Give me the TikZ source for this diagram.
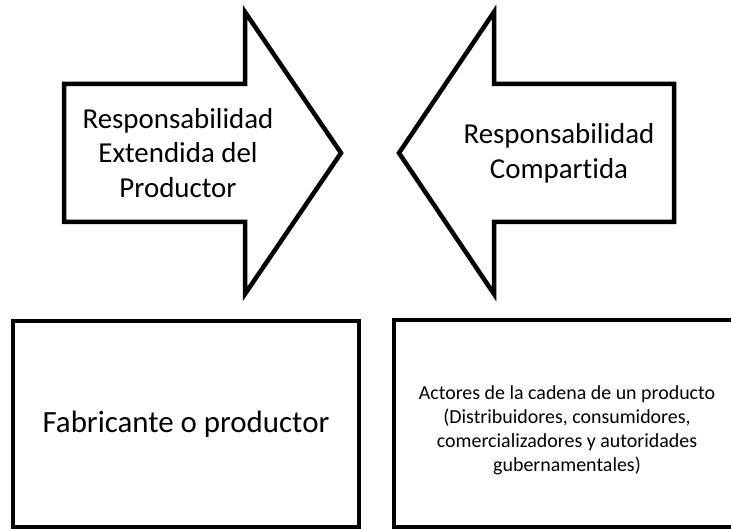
\documentclass[tikz,border=0pt]{standalone}
\usepackage{fontspec}
\setmainfont{Carlito}[Ligatures=NoCommon]
\usepackage{tikz}
\usetikzlibrary{positioning}

\tikzset{
    bigarrow/.style={line width=4.5bp, line join=miter, fill=white},
    actorbox/.style={draw, line width=4.5bp, rectangle, fill=white, align=center, inner sep=0pt},
    arrowtext/.style={align=center, font=\fontsize{29}{35}\selectfont}
}

\begin{document}
\begin{tikzpicture}[x=1bp, y=-1bp]
        \useasboundingbox (0,0) rectangle (731,529);

        % flechas
        \draw[bigarrow] (64,84) -- (245,84) -- (245,12) -- (341,153) -- (245,294) -- (245,222) -- (64,222) -- cycle;
        \draw[bigarrow] (674,84) -- (494,84) -- (494,12) -- (399,153) -- (494,294) -- (494,222) -- (674,222) -- cycle;

        \node[arrowtext] (rep) at (178,153) {Responsabilidad\\Extendida del\\Productor};
        \node[arrowtext] (rc) at (559,153) {Responsabilidad\\Compartida};

        % cajas
        \node[actorbox, minimum width=346bp, minimum height=206bp,
              font=\fontsize{31}{37}\selectfont] (fab) at (186,424) {Fabricante o productor};
        \node[actorbox, minimum width=346bp, minimum height=207bp] (act) at (567,423.5) {};
        \node[align=center, font=\fontsize{20}{24}\selectfont] (acttext) at (567,430)
            {Actores de la cadena de un producto\\(Distribuidores, consumidores,\\comercializadores y autoridades\\gubernamentales)};
    \end{tikzpicture}
\end{document}
